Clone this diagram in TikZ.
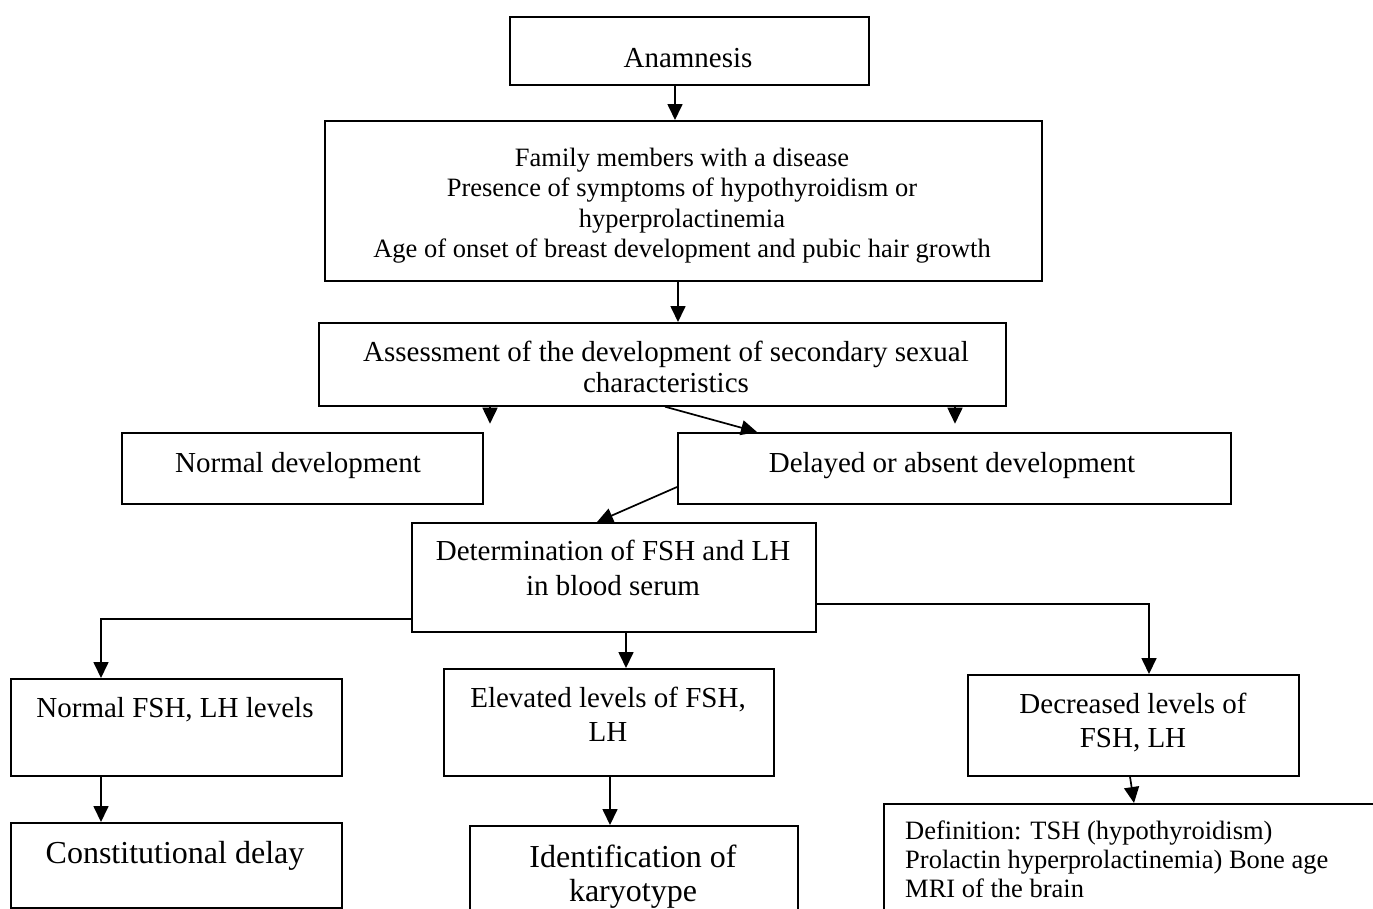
\documentclass[tikz,border=0pt]{standalone}
\usepackage{fontspec}
\setmainfont{Liberation Serif}
\usetikzlibrary{arrows.meta}
\tikzset{
  box/.style={draw, line width=1.7pt, inner sep=0pt, anchor=north west},
  txt/.style={inner sep=0pt, align=center, font=\fontsize{29}{34}\selectfont},
  arr/.style={line width=1.7pt, -{Triangle[length=16pt,width=15pt]}},
  ln/.style={line width=1.7pt}
}
\begin{document}
\begin{tikzpicture}[x=1pt,y=-1pt]
\useasboundingbox (0,0) rectangle (1373,908);
\clip (0,0) rectangle (1373,908);
% boxes
\node[box, minimum width=359pt, minimum height=68pt] (ana) at (509,16) {};
\node[box, minimum width=717pt, minimum height=160pt] (fam) at (324,120) {};
\node[box, minimum width=687pt, minimum height=83pt] (ass) at (318,322) {};
\node[box, minimum width=361pt, minimum height=71pt] (nd) at (121,432) {};
\node[box, minimum width=553pt, minimum height=71pt] (del) at (677,432) {};
\node[box, minimum width=404pt, minimum height=109pt] (det) at (411,522) {};
\node[box, minimum width=331pt, minimum height=97pt] (nfsh) at (10,678) {};
\node[box, minimum width=330pt, minimum height=107pt] (elev) at (443,668) {};
\node[box, minimum width=331pt, minimum height=101pt] (decr) at (967,674) {};
\node[box, minimum width=331pt, minimum height=85pt] (con) at (10,822) {};
\node[box, minimum width=328pt, minimum height=100pt] (ident) at (469,825) {};
\node[box, minimum width=520pt, minimum height=120pt] (def) at (883,803) {};
% texts
\node[txt] at (688,58) {Anamnesis};
\node[txt, font=\fontsize{26.5}{30.4}\selectfont] at (682,205.5) {Family members with a disease\\Presence of symptoms of hypothyroidism or\\hyperprolactinemia\\Age of onset of breast development and pubic hair growth};
\node[txt, font=\fontsize{29}{31}\selectfont] at (666,367) {Assessment of the development of secondary sexual\\characteristics};
\node[txt] at (298,466) {Normal development};
\node[txt] at (952,466) {Delayed or absent development};
\node[txt, font=\fontsize{29}{35}\selectfont] at (613,567.5) {Determination of FSH and LH\\in blood serum};
\node[txt] at (175,710) {Normal FSH, LH levels};
\node[txt] at (608,714) {Elevated levels of FSH,\\LH};
\node[txt] at (1133,723) {Decreased levels of\\FSH, LH};
\node[txt, font=\fontsize{32}{34}\selectfont] at (175,856) {Constitutional delay};
\node[txt, font=\fontsize{32}{34}\selectfont] at (633,876.5) {Identification of\\karyotype};
\node[txt, align=left, anchor=west, font=\fontsize{26.5}{29}\selectfont] at (905,859) {Definition: TSH (hypothyroidism)\\Prolactin hyperprolactinemia) Bone age\\MRI of the brain};
% connectors
\draw[arr] (ana.south -| 675,0) -- (fam.north -| 675,0);
\draw[arr] (fam.south -| 678,0) -- (ass.north -| 678,0);
\draw[arr] (ass.south -| 490,0) -- ++(0,17);
\draw[arr] (ass.south -| 955,0) -- ++(0,17);
\draw[arr] (ass.south -| 665,0) -- (del.north -| 757,0);
\draw[arr] (del.west |- 0,487) -- (det.north -| 597,0);
\draw[arr] (det.west |- 0,619) -- (101,619) -- (nfsh.north -| 101,0);
\draw[arr] (det.south -| 626,0) -- (elev.north -| 626,0);
\draw[arr] (det.east |- 0,604) -- (1149,604) -- (decr.north -| 1149,0);
\draw[arr] (nfsh.south -| 101,0) -- (con.north -| 101,0);
\draw[arr] (elev.south -| 610,0) -- (ident.north -| 610,0);
\draw[arr] (decr.south -| 1130,0) -- (def.north -| 1134,0);
\end{tikzpicture}
\end{document}
